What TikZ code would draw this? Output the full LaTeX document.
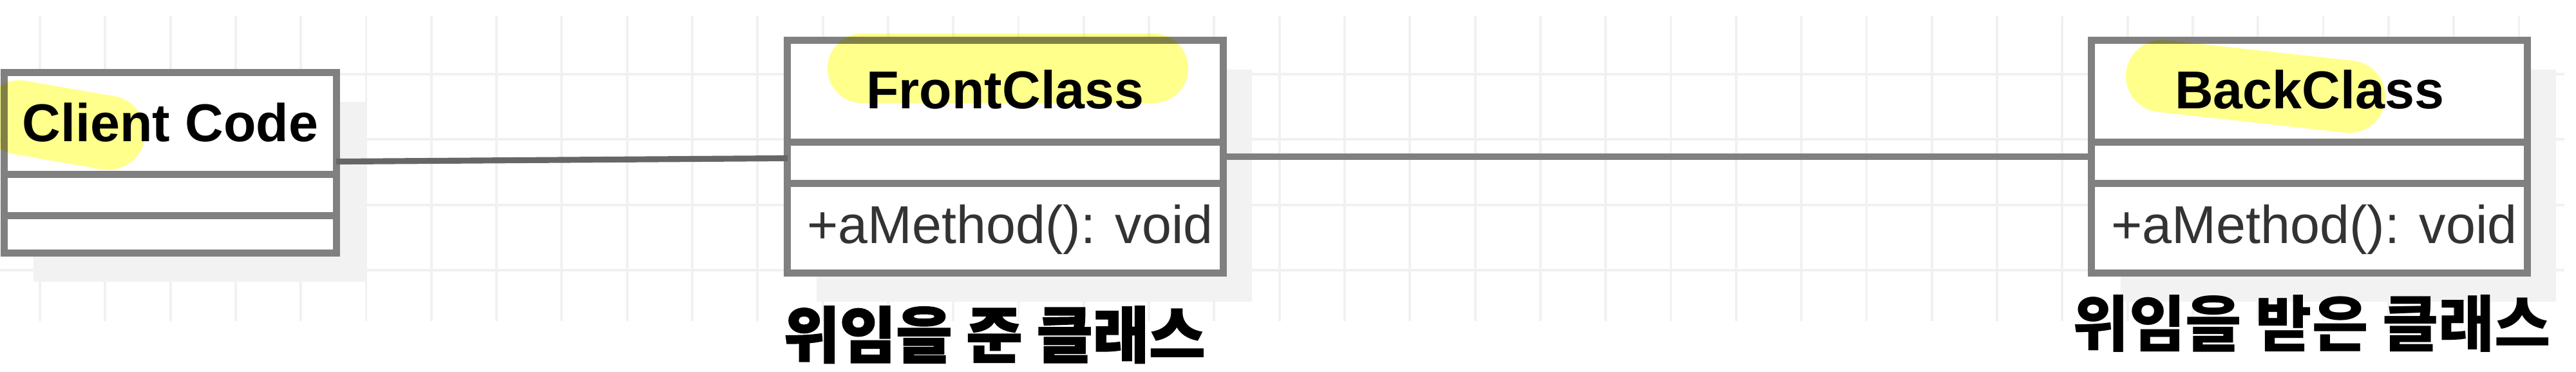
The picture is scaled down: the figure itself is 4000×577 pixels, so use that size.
\documentclass[tikz,border=0pt]{standalone}
\usepackage{fontspec}
\setmainfont{Liberation Sans}
\newfontfamily\kofont{Noto Sans CJK KR}
\newfontfamily\koheavy{Noto Sans CJK KR}[BoldFeatures={FakeBold=1.6}]
\usetikzlibrary{calc,shadows}
\definecolor{umlgray}{RGB}{128,128,128}
\definecolor{gridgray}{RGB}{241,241,241}
\definecolor{shadowgray}{RGB}{242,242,242}
\definecolor{marker}{RGB}{255,255,140}

\begin{document}
\begin{tikzpicture}[
  x=0.01cm, y=-0.01cm,
  cls/.style={draw=umlgray, line width=3.1pt, fill=white, inner sep=0pt, outer sep=0pt,
              minimum height=3.6cm,
              drop shadow={shadow xshift=0.45cm, shadow yshift=-0.45cm, fill=shadowgray, opacity=1}},
  clsname/.style={anchor=base, inner sep=0pt, font=\fontsize{23.5}{28}\selectfont\bfseries},
  member/.style={anchor=base west, inner sep=0pt, text=black!80, font=\fontsize{23.5}{28}\selectfont},
  link/.style={draw=umlgray, line width=3.1pt},
  role/.style={inner sep=0pt, font=\kofont\fontsize{27}{32}\selectfont\bfseries},
  hilite/.style={draw=marker, line cap=round, blend mode=multiply}
]
\useasboundingbox[fill=white] (0,0) rectangle (4000,577);
% grid
\foreach \i in {0,...,38}
  \draw[gridgray, line width=1.1pt] ({62+101.3*\i},25) -- ({62+101.3*\i},498);
\foreach \j in {0,...,3}
  \draw[gridgray, line width=1.1pt] (0,{115+101.3*\j}) -- (3982,{115+101.3*\j});

% classes
\node[cls, minimum width=5.15cm, minimum height=2.79cm] (client) at (264.5,252.5) {};
\node[cls, minimum width=6.76cm] (front) at (1561,243) {};
\node[cls, minimum width=6.76cm] (back) at (3586,243) {};
\foreach \c in {client,front,back}
  \foreach \d in {158,222}
    \draw[link] ($(\c.north west)+(0,\d)$) -- ($(\c.north east)+(0,\d)$);

\draw[link, draw=black!60, line width=2.6pt] (client) -- (front);
\draw[link] (front) -- (back);

\node[clsname] (clientname) at ($(client.north)+(0,107)$) {Client Code};
\node[clsname] (frontname) at ($(front.north)+(0,106)$) {FrontClass};
\node[clsname] (backname) at ($(back.north)+(0,106)$) {BackClass};
\node[member] (frontop) at ($(front.north west)+(30,315)$) {+aMethod(): void};
\node[member] (backop) at ($(back.north west)+(30,315)$) {+aMethod(): void};

% marker strokes
\draw[hilite, line width=1.15cm] (30,182) -- (168,206);
\draw[hilite, line width=1.08cm] (1339,106) -- (1791,106);
\draw[hilite, line width=1.12cm] (3357,118) -- (3648,150);

\node[role, font=\koheavy\fontsize{27}{32}\selectfont\bfseries] (giver) at ($(front.south)+(-17,96)$) {위임을 준 클래스};
\node[role] (taker) at ($(back.south)+(4,79)$) {위임을 받은 클래스};
\end{tikzpicture}
\end{document}
